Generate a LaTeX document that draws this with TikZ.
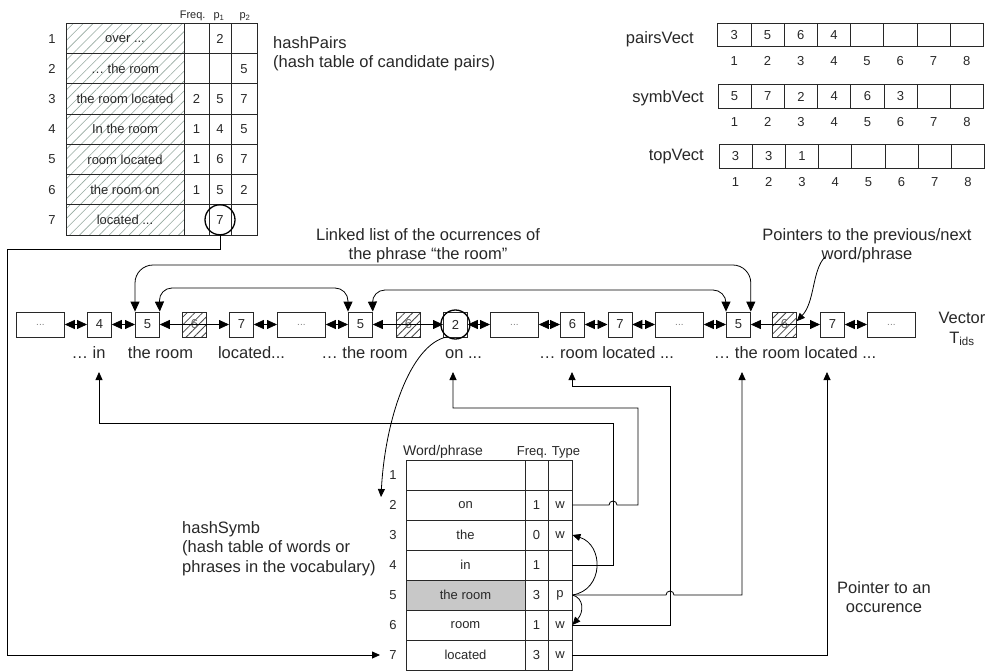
\documentclass[tikz,border=0pt]{standalone}
\usepackage{fontspec}
\setmainfont{Liberation Sans}
\usetikzlibrary{arrows.meta,patterns.meta}
\definecolor{ink}{RGB}{40,40,40}
\definecolor{hatchgreen}{RGB}{150,170,160}
\definecolor{hatchgray}{RGB}{70,70,70}
\definecolor{shade}{RGB}{200,200,200}
\tikzset{
 lbl/.style={font=\fontsize{16.5}{19.5}\selectfont, text=ink, inner sep=0pt},
 numtxt/.style={font=\fontsize{13}{15}\selectfont, text=ink, inner sep=0pt},
 hdr/.style={font=\fontsize{11}{13}\selectfont, text=ink, inner sep=0pt},
 cell/.style={draw=ink, line width=0.8pt, inner sep=0pt, font=\fontsize{13}{15}\selectfont, text=ink},
 pcell/.style={cell, minimum height=30.2pt},
 scell/.style={cell, minimum height=30pt},
 vcell/.style={cell, minimum width=33.2pt, minimum height=23.4pt},
 hatchpairs/.style={pattern={Lines[angle=45,distance=7pt,line width=0.6pt]}, pattern color=hatchgreen},
 lbox/.style={cell, minimum width=24pt, minimum height=25pt, anchor=west},
 wbox/.style={cell, minimum width=48pt, minimum height=25pt, anchor=west, font=\fontsize{10}{12}\selectfont, text=gray},
 hbox/.style={lbox, pattern={Lines[angle=45,distance=5.5pt,line width=0.8pt]}, pattern color=hatchgray, text=ink!70},
 conn/.style={draw=black, line width=0.8pt},
 tip/.style={-{Triangle[length=8pt,width=7pt]}},
 dbl/.style={conn, {Triangle[length=10pt,width=9pt]}-{Triangle[length=10pt,width=9pt]}},
 ring/.style={circle, draw=black, line width=1.3pt, inner sep=0pt},
}
\newcommand\hprow[6]{%
 \node[numtxt] (hpn#1) at (52,#2) {#1};
 \node[pcell, hatchpairs, minimum width=118pt] (hpw#1) at (125,#2) {#3};
 \node[pcell, minimum width=25pt] (hpf#1) at (196.5,#2) {#4};
 \node[pcell, minimum width=22pt] (hpa#1) at (220,#2) {#5};
 \node[pcell, minimum width=26pt] (hpb#1) at (244,#2) {#6};}
\newcommand\hsrow[6]{%
 \node[numtxt] (hsn#1) at (393,#2) {#1};
 \node[scell, fill=#6, minimum width=119pt] (hsw#1) at (465.5,#2) {#3};
 \node[scell, minimum width=23pt] (hsf#1) at (536.5,#2) {#4};
 \node[scell, minimum width=24pt] (hst#1) at (560,#2) {#5};}
\begin{document}
\begin{tikzpicture}[x=1pt,y=-1pt]
\useasboundingbox[fill=white] (0,0) rectangle (1006,671);

% ---------- hashPairs ----------
\node[hdr, anchor=base] (hpfh) at (192.7,19) {Freq.};
\node[hdr, anchor=base] (hpah) at (219,19) {p\textsubscript{1}};
\node[hdr, anchor=base] (hpbh) at (245,19) {p\textsubscript{2}};
\hprow{1}{38.6}{over ...}{}{2}{}
\hprow{2}{68.8}{… the room}{}{}{5}
\hprow{3}{99.0}{the room located}{2}{5}{7}
\hprow{4}{129.2}{In the room}{1}{4}{5}
\hprow{5}{159.4}{room located}{1}{6}{7}
\hprow{6}{189.6}{the room on}{1}{5}{2}
\hprow{7}{219.8}{located ...}{}{7}{}
\node[ring, minimum size=30pt] (c7) at (hpa7) {};
\node[lbl, anchor=north west, align=left] (hplbl) at (273,36) {hashPairs\\(hash table of candidate pairs)};

% ---------- vectors ----------
\node[lbl, anchor=base east] (pvl) at (694,44) {pairsVect};
\foreach \i/\v in {1/3,2/5,3/6,4/4,5/{},6/{},7/{},8/{}}{
 \node[vcell] (pv\i) at ({717.7+33.2*(\i-0.5)},35) {\v};
 \node[numtxt] (pvn\i) at ({717.7+33.2*(\i-0.5)},61) {\i};}
\node[lbl, anchor=base east] (svl) at (704,103) {symbVect};
\foreach \i/\v in {1/5,2/7,3/2,4/4,5/6,6/3,7/{},8/{}}{
 \node[vcell] (sv\i) at ({718+33.2*(\i-0.5)},96.5) {\v};
 \node[numtxt] (svn\i) at ({718+33.2*(\i-0.5)},122) {\i};}
\node[lbl, anchor=base east] (tvl) at (704,161) {topVect};
\foreach \i/\v in {1/3,2/3,3/1,4/{},5/{},6/{},7/{},8/{}}{
 \node[vcell] (tv\i) at ({719+33.2*(\i-0.5)},156.5) {\v};
 \node[numtxt] (tvn\i) at ({719+33.2*(\i-0.5)},182) {\i};}

% ---------- vector T_ids ----------
\node[wbox] (b1) at (16,324.5) {...};
\node[lbox] (b2) at (87,324.5) {4};
\node[lbox] (b3) at (135,324.5) {5};
\node[hbox] (b4) at (182,324.5) {6};
\node[lbox] (b5) at (229,324.5) {7};
\node[wbox] (b6) at (277,324.5) {...};
\node[lbox] (b7) at (348,324.5) {5};
\node[hbox] (b8) at (396,324.5) {6};
\node[lbox] (b9) at (443,324.5) {2};
\node[wbox] (b10) at (490,324.5) {...};
\node[lbox] (b11) at (560,324.5) {6};
\node[lbox] (b12) at (607.5,324.5) {7};
\node[wbox] (b13) at (655,324.5) {...};
\node[lbox] (b14) at (726,324.5) {5};
\node[hbox] (b15) at (772,324.5) {6};
\node[lbox] (b16) at (820,324.5) {7};
\node[wbox] (b17) at (867,324.5) {...};
\foreach \a/\b in {b1/b2,b2/b3,b3/b5,b5/b6,b6/b7,b7/b9,b9/b10,b10/b11,b11/b12,b12/b13,b13/b14,b14/b16,b16/b17}
 \draw[dbl] (\a.east) -- (\b.west);
\node[ring, minimum size=29pt] (c2) at (b9) {};
\node[lbl, anchor=north, align=center] (vlbl) at (962,312) {Vector\\T\textsubscript{ids}};

\node[lbl, anchor=base] (lin) at (88.5,358) {… in};
\node[lbl, anchor=base] (lroom1) at (160.5,358) {the room};
\node[lbl, anchor=base] (lloc) at (251.5,358) {located...};
\node[lbl, anchor=base] (lroom2) at (364.5,358) {… the room};
\node[lbl, anchor=base] (lon) at (463.5,358) {on ...};
\node[lbl, anchor=base] (lrl) at (606.5,358) {… room located ...};
\node[lbl, anchor=base] (ltrl) at (795,358) {… the room located ...};

% linked list arcs
\draw[dbl, rounded corners=18pt] (b3.north west) -- (135,265) -| (b14.north east);
\draw[dbl, rounded corners=13pt] (b3.north east) -- (159,288) -| (b7.north west);
\draw[dbl, rounded corners=13pt] (b7.north east) -- (372,290) -| (b14.north west);
\node[lbl, anchor=north, align=center] (lllbl) at (428,228) {Linked list of the ocurrences of\\the phrase “the room”};
\node[lbl, anchor=north, align=center] (ptlbl) at (867,228) {Pointers to the previous/next\\word/phrase};
\coordinate (ptstart) at (825,257);
\draw[conn, tip] (ptstart) .. controls (812,270) and (815,302) .. (b15.15);

% ---------- hashSymb ----------
\node[font=\fontsize{14}{16}\selectfont, text=ink, inner sep=0pt, anchor=base] (hswh) at (443,455) {Word/phrase};
\node[numtxt, anchor=base] (hsfh) at (548.5,455) {Freq. Type};
\hsrow{1}{475}{}{}{}{white}
\hsrow{2}{505}{on}{1}{w}{white}
\hsrow{3}{535}{the}{0}{w}{white}
\hsrow{4}{565}{in}{1}{}{white}
\hsrow{5}{595}{the room}{3}{p}{shade}
\hsrow{6}{625}{room}{1}{w}{white}
\hsrow{7}{655}{located}{3}{w}{white}
\node[lbl, anchor=north west, align=left] (hslbl) at (182,521) {hashSymb\\(hash table of words or\\phrases in the vocabulary)};
\node[lbl, anchor=north, align=center] (poclbl) at (884,581) {Pointer to an\\occurence};

% ---------- pointers ----------
\coordinate (tin) at (99,372);
\coordinate (ton) at (453,372);
\coordinate (trl) at (572,372);
\coordinate (ttrl) at (742,372);
\coordinate (tloc) at (827,372);
\coordinate (t2) at (381,497);
\coordinate (t7) at (380,655);

\draw[conn, tip] (c7.south) -- (220,249) -- (7,249) -- (7,655) -- (t7);
\draw[conn, tip] (c2.235) .. controls (410,345) and (385,420) .. (t2);
\draw[conn, tip] (hst4.east) -- (613,565) -- (613,423) -- (99,423) -- (tin);
\draw[conn, tip] (hst2.east) -- (609,505) arc[start angle=180,end angle=360,radius=4] -- (638,505) -- (638,408) -- (453,408) -- (ton);
\draw[conn, tip] (hst6.east) -- (670,625) -- (670,386) -- (572,386) -- (trl);
\draw[conn, tip] (hst5.east) -- (666,595) arc[start angle=180,end angle=360,radius=4] -- (742,595) -- (ttrl);
\draw[conn, tip] (hst7.east) -- (827,655) -- (tloc);
\draw[conn, tip] (hst5.east) .. controls (604,590) and (604,545) .. (hst3.east);
\draw[conn, tip] (hst5.east) .. controls (584,598) and (584,612) .. (hst6.east);
\end{tikzpicture}
\end{document}
